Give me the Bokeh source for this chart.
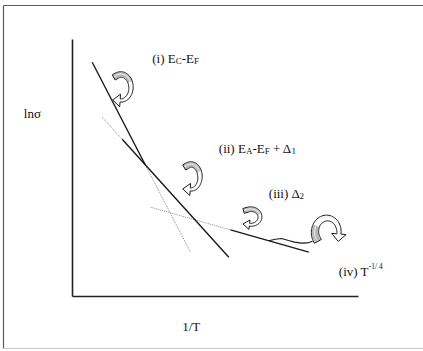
import numpy as np
from bokeh.plotting import figure
from bokeh.models import Range1d, ColumnDataSource
from bokeh.core.properties import value
from bokeh.embed import file_html
from bokeh.resources import INLINE

# ln(sigma) versus 1/T, arbitrary units, origin at the corner of the axes.
# Regime (i): E_C - E_F, solid part and its dotted extrapolation
regime_i_x = [1.97, 7.30]
regime_i_y = [23.43, 13.13]
regime_i_ext_x = [7.30, 11.80]
regime_i_ext_y = [13.13, 4.43]
# Regime (ii): E_A - E_F + Delta_1
regime_ii_ext_x = [2.97, 4.97]
regime_ii_ext_y = [17.93, 15.72]
regime_ii_x = [4.97, 15.63]
regime_ii_y = [15.72, 3.93]
# Regime (iii): Delta_2
regime_iii_ext_x = [7.80, 15.80]
regime_iii_ext_y = [8.93, 6.66]
regime_iii_x = [15.80, 23.63]
regime_iii_y = [6.66, 4.43]
# Regime (iv): T^-1/4 hopping tail
regime_iv_x = [19.6, 20.3, 20.9, 21.6, 22.2, 22.9, 23.5, 24.0]
regime_iv_y = [5.58, 5.72, 5.80, 5.60, 5.44, 5.34, 5.36, 5.52]

axis_x_end = 28.6
axis_y_end = 25.7

# Labels: runs of (text, role) placed from a left baseline anchor
label_runs = [
    ((7.97, 23.85), [("(i) E", "main"), ("C", "sub"), ("-E", "main"), ("F", "sub")]),
    ((14.63, 14.83), [("(ii) E", "main"), ("A", "sub"), ("-E", "main"), ("F", "sub"),
                      (" + \u0394", "main"), ("1", "sub")]),
    ((19.63, 10.33), [("(iii) \u0394", "main"), ("2", "sub")]),
    ((26.63, 2.53), [("(iv) T", "main"), ("-1/ 4", "sup")]),
    ((-4.87, 18.27), [("ln\u03c3", "main")]),
    ((10.97, -3.00), [("1/T", "main")]),
]

# Turning arrows: centre, radii, start/end angle (deg), lead-in, widths, head, shaded fraction
arrows = [
    dict(c=(4.85, 20.90), r=(1.00, 1.30), a=(115, -95), lead=0.35, w=(0.60, 0.30), head=(1.25, 0.75), shade=0.45),
    dict(c=(11.85, 11.95), r=(0.90, 1.25), a=(115, -95), lead=0.35, w=(0.60, 0.30), head=(1.20, 0.75), shade=0.45),
    dict(c=(17.85, 7.95), r=(0.90, 0.78), a=(110, -100), lead=0.45, w=(0.50, 0.28), head=(0.95, 0.65), shade=0.45),
    dict(c=(25.45, 6.45), r=(1.20, 1.40), a=(215, -8), lead=0.15, w=(0.80, 0.40), head=(1.45, 0.75), shade=0.32),
]

W, H = 423, 351
X0, X1 = -7.2, 35.1
Y0, Y1 = -5.5, 29.6
PPU = W / (X1 - X0)  # screen pixels per data unit

p = figure(width=W, height=H, x_range=Range1d(X0, X1), y_range=Range1d(Y0, Y1),
           output_backend="svg", toolbar_location=None, min_border=0,
           x_axis_type=None, y_axis_type=None, outline_line_color=None,
           background_fill_color="white", border_fill_color="white")
p.xgrid.visible = False
p.ygrid.visible = False

# outer frame (left, top, bottom)
p.line([-6.9, -6.9], [-5.2, 29.1], line_color="#5a5a5a", line_width=1.2)
p.line([-6.9, X1], [29.1, 29.1], line_color="#5a5a5a", line_width=1.2)
p.line([-6.9, X1], [-5.2, -5.2], line_color="#c8c8c8", line_width=1.2)

# axes
p.line([0, 0], [0, axis_y_end], line_color="#222222", line_width=1.6)
p.line([0, axis_x_end], [0, 0], line_color="#222222", line_width=1.6)

# dotted extrapolations
for xs, ys in [(regime_i_ext_x, regime_i_ext_y), (regime_ii_ext_x, regime_ii_ext_y),
               (regime_iii_ext_x, regime_iii_ext_y)]:
    p.line(xs, ys, line_color="#8c8c8c", line_width=1.0, line_dash="1 1")

# solid regime lines
for xs, ys in [(regime_i_x, regime_i_y), (regime_ii_x, regime_ii_y),
               (regime_iii_x, regime_iii_y)]:
    p.line(xs, ys, line_color="#1a1a1a", line_width=1.4)
p.line(regime_iv_x, regime_iv_y, line_color="#1a1a1a", line_width=1.1)


def ribbon_arrow(c, r, a, lead, w, head, shade, n=48):
    th = np.radians(np.linspace(a[0], a[1], n))
    px = c[0] + r[0] * np.cos(th)
    py = c[1] + r[1] * np.sin(th)
    d = np.array([px[1] - px[0], py[1] - py[0]])
    d /= np.hypot(*d)
    px = np.r_[px[0] - lead * d[0], px]
    py = np.r_[py[0] - lead * d[1], py]
    tx, ty = np.gradient(px), np.gradient(py)
    nrm = np.hypot(tx, ty)
    tx, ty = tx / nrm, ty / nrm
    nx, ny = -ty, tx
    wid = np.linspace(w[0], w[1], len(px)) / 2
    ox, oy = px + nx * wid, py + ny * wid
    ix, iy = px - nx * wid, py - ny * wid
    ex, ey = px[-1], py[-1]
    hw, hl = head[0] / 2, head[1]
    c1 = (ex + nx[-1] * hw, ey + ny[-1] * hw)
    c2 = (ex - nx[-1] * hw, ey - ny[-1] * hw)
    tip = (ex + tx[-1] * hl, ey + ty[-1] * hl)
    outline_x = list(ox) + [c1[0], tip[0], c2[0]] + list(ix[::-1])
    outline_y = list(oy) + [c1[1], tip[1], c2[1]] + list(iy[::-1])
    k = max(3, int(shade * len(px)))
    sw = wid[:k] * 0.8
    sx = list(px[:k] + nx[:k] * sw) + list((px[:k] - nx[:k] * sw)[::-1])
    sy = list(py[:k] + ny[:k] * sw) + list((py[:k] - ny[:k] * sw)[::-1])
    lx = list(px[:k] + nx[:k] * sw * 0.15)
    ly = list(py[:k] + ny[:k] * sw * 0.15)
    return outline_x, outline_y, sx, sy, lx, ly


shapes = [ribbon_arrow(**a) for a in arrows]
p.patches([s[0] for s in shapes], [s[1] for s in shapes], fill_color="white", line_color=None)
p.patches([s[2] for s in shapes], [s[3] for s in shapes], fill_color="#b4b4b4", line_color=None)
p.multi_line([s[4] for s in shapes], [s[5] for s in shapes], line_color="#e6e6e6", line_width=1.2)
p.patches([s[0] for s in shapes], [s[1] for s in shapes], fill_color=None,
          line_color="#1a1a1a", line_width=1.0)

# text runs with Times-like advance widths (per 1000 em)
ADV = {'(': 333, ')': 333, 'i': 278, 'v': 500, ' ': 250, 'E': 611, 'C': 667, 'F': 556,
       'A': 722, '-': 333, '+': 564, '\u0394': 612, 'T': 611, '1': 500, '2': 500,
       '4': 500, '/': 278, 'l': 278, 'n': 500, '\u03c3': 550}
ROLE = {"main": (13.0, 0.0), "sub": (9.0, -2.6), "sup": (7.5, 4.3)}


def advance(s, size):
    return sum(ADV.get(ch, 500) for ch in s) / 1000 * size / PPU


tx_, ty_, tt_, ts_ = [], [], [], []
for (x0, y0), runs in label_runs:
    x = x0
    for txt, role in runs:
        size, dy = ROLE[role]
        body = txt.lstrip(" ")
        x += advance(txt[:len(txt) - len(body)], size)  # leading blanks collapse in SVG
        tx_.append(x)
        ty_.append(y0 + dy / PPU)
        tt_.append(body)
        ts_.append(f"{size}px")
        x += advance(body, size)

src = ColumnDataSource(dict(x=tx_, y=ty_, text=tt_, size=ts_))
p.text(x="x", y="y", text="text", source=src, text_font=value("Liberation Serif"),
       text_font_size="size", text_color="#111111", text_align="left",
       text_baseline="alphabetic")

open("out.html", "w").write(file_html(p, INLINE))
